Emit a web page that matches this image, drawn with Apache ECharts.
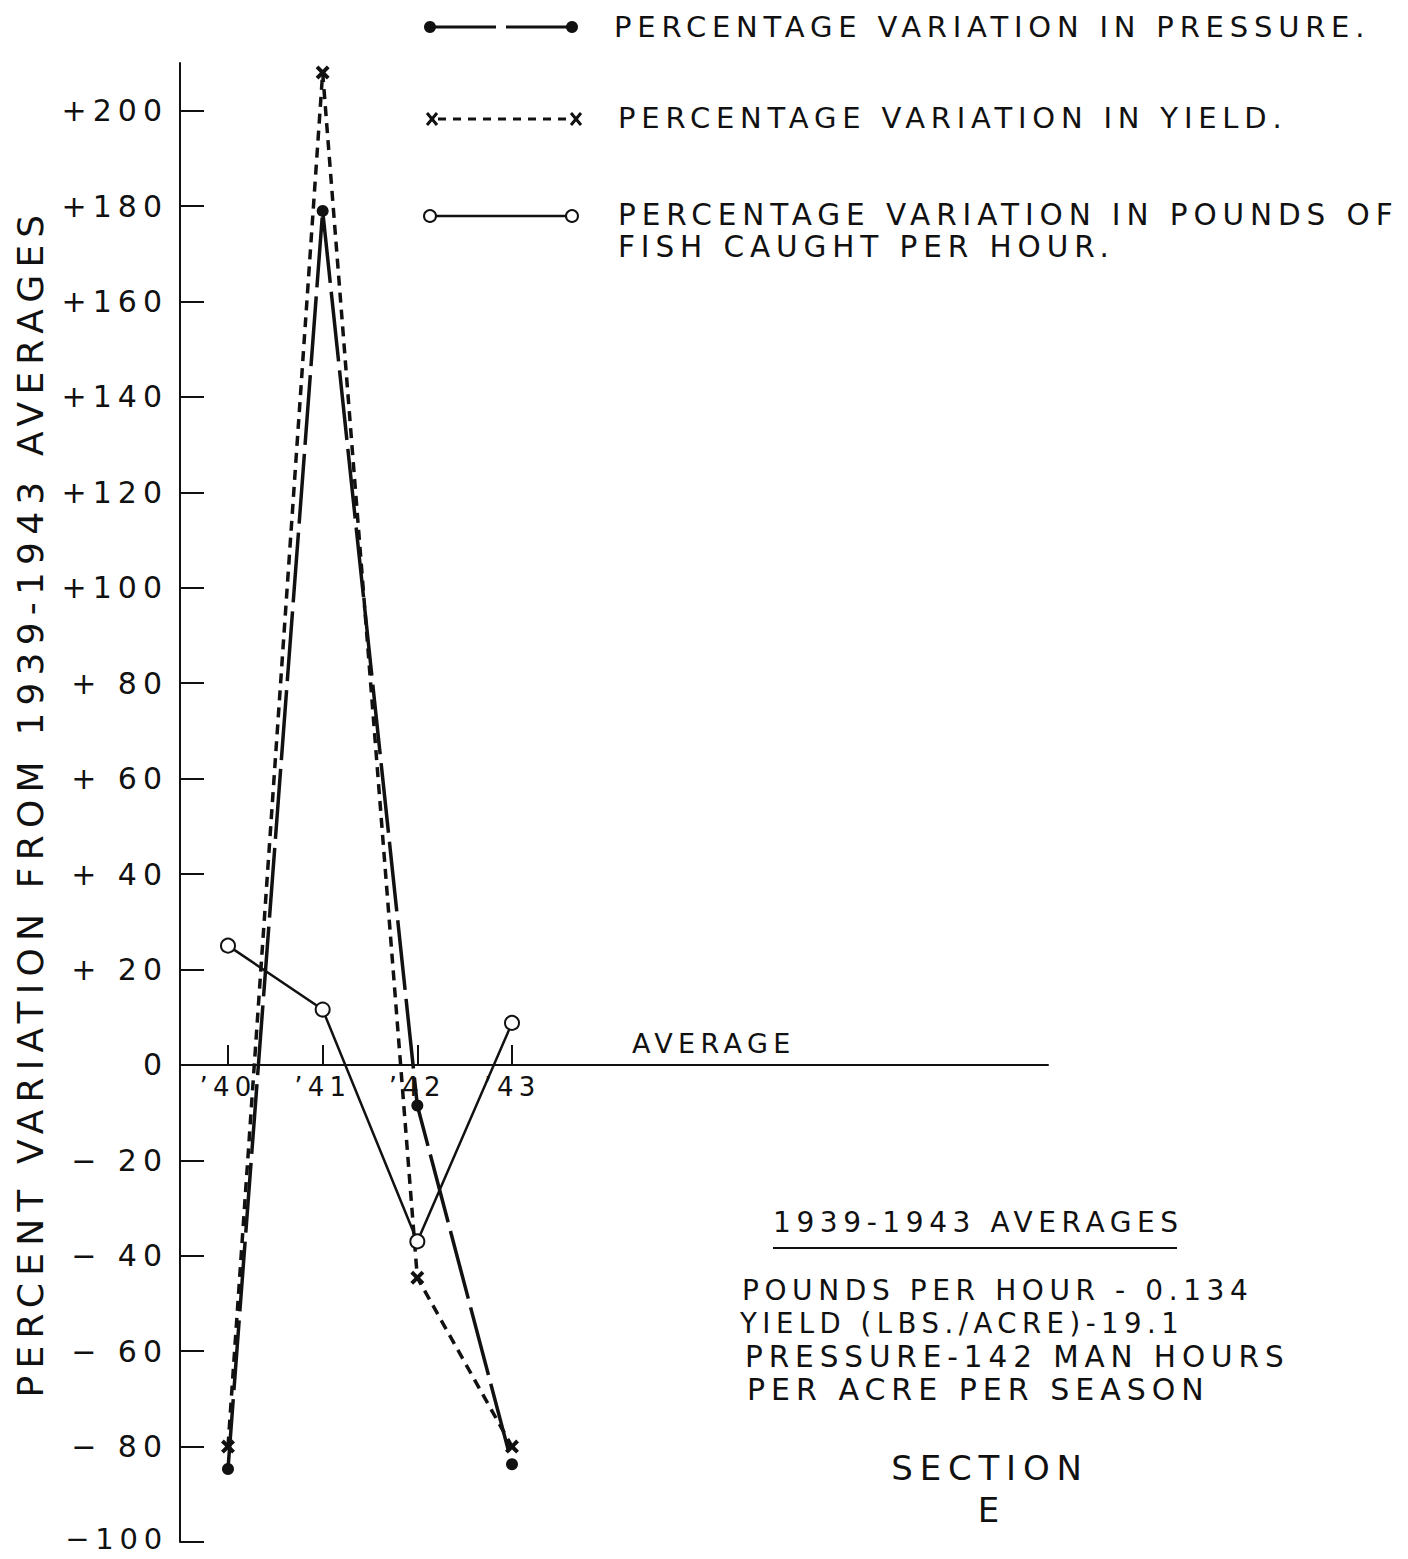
<!DOCTYPE html>
<html>
<head>
<meta charset="utf-8">
<script src="https://cdn.jsdelivr.net/npm/echarts@6/dist/echarts.min.js"></script>
<style>
  html, body { margin: 0; padding: 0; background: #fff; }
  #chart { width: 1408px; height: 1559px; }
  #chart text { letter-spacing: 0.2em; }
</style>
</head>
<body>
<div id="chart"></div>
<script>
// ---- data ----
const years = ['\u201940', '\u201941', '\u201942', '\u201943'];
const pressure = [-84.7, 179, -8.5, -83.7];
const yieldVals = [-80, 208, -44.6, -80];
const poundsPerHour = [25, 11.6, -37, 8.8];
const yTickValues = [-100, -80, -60, -40, -20, 0, 20, 40, 60, 80, 100, 120, 140, 160, 180, 200];
const yTickLabels = ['\u2212100', '\u2212 80', '\u2212 60', '\u2212 40', '\u2212 20', '0',
  '+ 20', '+ 40', '+ 60', '+ 80', '+100', '+120', '+140', '+160', '+180', '+200'];
const xTickValues = [0, 1, 2, 3];
const legendNames = ['PERCENTAGE VARIATION IN PRESSURE.', 'PERCENTAGE VARIATION IN YIELD.',
  'PERCENTAGE VARIATION IN POUNDS OF', 'FISH CAUGHT PER HOUR.'];
const noteLines = ['POUNDS PER HOUR - 0.134', 'YIELD (LBS./ACRE)-19.1',
  'PRESSURE-142 MAN HOURS', 'PER ACRE PER SEASON'];

const FONT = 'DejaVu Sans';
const INK = '#111';
const Y_MIN = -100, Y_MAX = 210;
const GRID = { left: 180, top: 63, width: 868, height: 1479 };
const toPairs = arr => arr.map((v, i) => [i, v]);
const xMark = 'path://M2,0 L5,3 L8,0 L10,2 L7,5 L10,8 L8,10 L5,7 L2,10 L0,8 L3,5 L0,2 Z';
// x axis drawn along the zero line: distance from grid bottom to value 0
const zeroOffset = (0 - Y_MIN) / (Y_MAX - Y_MIN) * GRID.height;

const chart = echarts.init(document.getElementById('chart'), null, { renderer: 'svg' });

function txt(text, x, y, size, align) {
  return {
    type: 'text', x: x, y: y, silent: true,
    style: { text: text, fill: INK, font: size + 'px "' + FONT + '"', textAlign: align || 'left', textVerticalAlign: 'middle' }
  };
}
function ln(x1, y1, x2, y2, w, dash) {
  return { type: 'line', silent: true, shape: { x1, y1, x2, y2 }, style: { stroke: INK, lineWidth: w, lineDash: dash || null } };
}

const graphics = [
  // legend row 1
  ln(430, 27, 572, 27, 3, [66, 10]),
  { type: 'circle', shape: { cx: 430, cy: 27, r: 6 }, style: { fill: INK } },
  { type: 'circle', shape: { cx: 572, cy: 27, r: 6 }, style: { fill: INK } },
  txt(legendNames[0], 614, 27, 29),
  // legend row 2
  ln(438, 119, 570, 119, 3, [8, 7]),
  ln(427, 113, 437, 125, 3), ln(437, 113, 427, 125, 3),
  ln(571, 113, 581, 125, 3), ln(581, 113, 571, 125, 3),
  txt(legendNames[1], 618, 118, 29),
  // legend row 3
  ln(436, 216, 566, 216, 2.5),
  { type: 'circle', shape: { cx: 430, cy: 216, r: 6 }, style: { fill: '#fff', stroke: INK, lineWidth: 2 } },
  { type: 'circle', shape: { cx: 572, cy: 216, r: 6 }, style: { fill: '#fff', stroke: INK, lineWidth: 2 } },
  txt(legendNames[2], 618, 215, 29.5),
  txt(legendNames[3], 618, 247, 29.5),
  // annotations
  txt('AVERAGE', 632, 1043, 27),
  txt('1939-1943 AVERAGES', 773, 1222, 28),
  ln(773, 1248, 1177, 1248, 2),
  txt(noteLines[0], 742, 1290, 28),
  txt(noteLines[1], 740, 1323, 27.5),
  txt(noteLines[2], 745, 1357, 29.5),
  txt(noteLines[3], 747, 1389, 30),
  txt('SECTION', 990, 1468, 34, 'center'),
  txt('E', 992, 1510, 34, 'center')
];

const option = {
  backgroundColor: '#fff',
  animation: false,
  grid: Object.assign({ outerBoundsMode: 'none', containLabel: false }, GRID),
  xAxis: {
    type: 'value', min: -0.507, max: 8.662,
    position: 'bottom', offset: -zeroOffset,
    axisLine: { onZero: false, lineStyle: { color: INK, width: 2 } },
    axisTick: { inside: true, length: 20, customValues: xTickValues, lineStyle: { color: INK, width: 2 } },
    axisLabel: {
      customValues: xTickValues, formatter: v => years[Math.round(v)] || '',
      color: INK, fontFamily: FONT, fontSize: 26, margin: 9
    },
    splitLine: { show: false }
  },
  yAxis: {
    type: 'value', min: Y_MIN, max: Y_MAX, interval: 20,
    name: 'PERCENT VARIATION FROM 1939-1943 AVERAGES',
    nameLocation: 'middle', nameGap: 132,
    nameTextStyle: { color: INK, fontFamily: FONT, fontSize: 36 },
    axisLine: { onZero: false, lineStyle: { color: INK, width: 2 } },
    axisTick: { inside: true, length: 24, customValues: yTickValues, lineStyle: { color: INK, width: 2 } },
    axisLabel: {
      customValues: yTickValues,
      formatter: v => {
        const i = yTickValues.indexOf(Math.round(v));
        if (i < 0) return '';
        return i === 0 ? '{low|' + yTickLabels[i] + '}' : yTickLabels[i];
      },
      color: INK, fontFamily: FONT, fontSize: 30, lineHeight: 24, margin: 12,
      rich: { low: { color: INK, fontFamily: FONT, fontSize: 29, lineHeight: 22, padding: [0, 0, 6, 0] } }
    },
    splitLine: { show: false }
  },
  series: [
    {
      name: 'yield', type: 'line', data: toPairs(yieldVals),
      lineStyle: { color: INK, width: 3.5, type: [10, 7] },
      symbol: xMark, symbolSize: 14, itemStyle: { color: INK }, z: 3
    },
    {
      name: 'pressure', type: 'line', data: toPairs(pressure),
      lineStyle: { color: INK, width: 3.5, type: [70, 9] },
      symbol: 'circle', symbolSize: 12, itemStyle: { color: INK }, z: 4
    },
    {
      name: 'pounds', type: 'line', data: toPairs(poundsPerHour),
      lineStyle: { color: INK, width: 2.5 },
      symbol: 'circle', symbolSize: 14,
      itemStyle: { color: '#fff', borderColor: INK, borderWidth: 2 }, z: 5
    }
  ],
  graphic: graphics
};
chart.setOption(option);
</script>
</body>
</html>
